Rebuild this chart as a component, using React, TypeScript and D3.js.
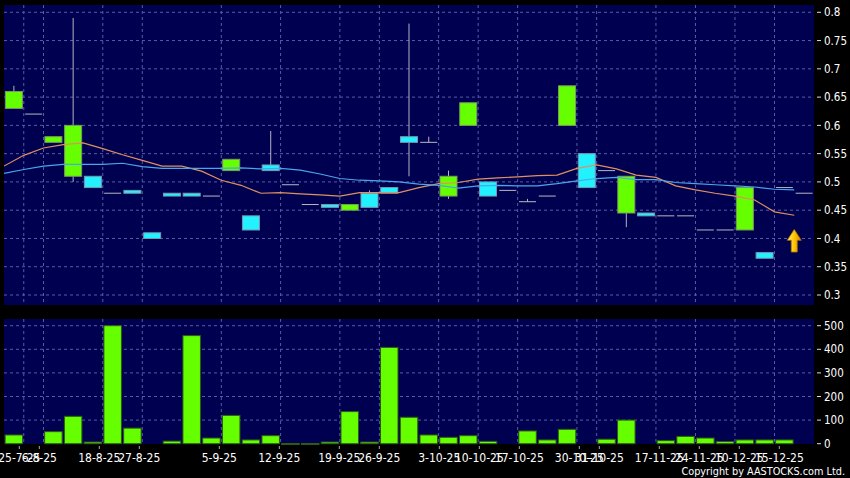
import React from "react";
import * as d3 from "d3";

// ---- data ----
const opens = [0.63, 0.62, 0.57, 0.51, 0.51, 0.48, 0.485, 0.41, 0.48, 0.48, 0.475, 0.52, 0.44, 0.53, 0.495, 0.46, 0.46, 0.45, 0.48, 0.49, 0.58, 0.57, 0.475, 0.6, 0.5, 0.485, 0.465, 0.475, 0.6, 0.55, 0.52, 0.445, 0.445, 0.44, 0.44, 0.415, 0.415, 0.415, 0.375, 0.49, 0.48];
const highs = [0.67, 0.62, 0.58, 0.79, 0.51, 0.48, 0.485, 0.41, 0.48, 0.48, 0.475, 0.54, 0.44, 0.59, 0.495, 0.46, 0.46, 0.46, 0.485, 0.49, 0.78, 0.58, 0.52, 0.64, 0.5, 0.485, 0.47, 0.475, 0.67, 0.55, 0.52, 0.51, 0.445, 0.44, 0.44, 0.415, 0.415, 0.49, 0.375, 0.49, 0.48];
const lows = [0.63, 0.62, 0.57, 0.5, 0.49, 0.48, 0.48, 0.4, 0.475, 0.475, 0.475, 0.52, 0.415, 0.52, 0.495, 0.46, 0.455, 0.45, 0.455, 0.48, 0.51, 0.57, 0.47, 0.6, 0.475, 0.485, 0.465, 0.475, 0.6, 0.49, 0.52, 0.42, 0.44, 0.44, 0.44, 0.415, 0.415, 0.415, 0.365, 0.49, 0.48];
const closes = [0.66, 0.62, 0.58, 0.6, 0.49, 0.48, 0.48, 0.4, 0.475, 0.475, 0.475, 0.54, 0.415, 0.52, 0.495, 0.46, 0.455, 0.46, 0.455, 0.48, 0.57, 0.57, 0.51, 0.64, 0.475, 0.485, 0.465, 0.475, 0.67, 0.49, 0.52, 0.51, 0.44, 0.44, 0.44, 0.415, 0.415, 0.49, 0.365, 0.49, 0.48];
const volumes = [37, 0, 51, 116, 7, 500, 66, 0, 11, 458, 24, 120, 16, 34, 1, 1, 7, 136, 7, 408, 112, 37, 27, 34, 10, 0, 54, 16, 61, 0, 19, 100, 0, 13, 31, 24, 9, 16, 16, 16, 0];
const maOrange = [0.528, 0.547, 0.56, 0.566, 0.569, 0.559, 0.548, 0.538, 0.528, 0.528, 0.519, 0.503, 0.494, 0.48, 0.481, 0.479, 0.477, 0.475, 0.481, 0.481, 0.481, 0.49, 0.497, 0.499, 0.505, 0.507, 0.509, 0.511, 0.512, 0.524, 0.53, 0.523, 0.512, 0.508, 0.493, 0.486, 0.48, 0.475, 0.468, 0.447, 0.441];
const maBlue = [0.515, 0.522, 0.528, 0.531, 0.531, 0.531, 0.533, 0.527, 0.524, 0.524, 0.524, 0.524, 0.525, 0.523, 0.524, 0.521, 0.514, 0.506, 0.503, 0.502, 0.5, 0.496, 0.494, 0.489, 0.493, 0.494, 0.493, 0.493, 0.497, 0.502, 0.506, 0.508, 0.504, 0.504, 0.499, 0.497, 0.495, 0.493, 0.491, 0.487, 0.486];
const tickIdx = [1, 2, 5, 7, 11, 14, 17, 19, 22, 24, 26, 29, 30, 33, 35, 37, 39];
const tickLabels = ["25-7-25", "6-8-25", "18-8-25", "27-8-25", "5-9-25", "12-9-25", "19-9-25", "26-9-25", "3-10-25", "10-10-25", "17-10-25", "30-10-25", "31-10-25", "17-11-25", "24-11-25", "10-12-25", "15-12-25"];
const priceTicks = [0.3, 0.35, 0.4, 0.45, 0.5, 0.55, 0.6, 0.65, 0.7, 0.75, 0.8];
const volTicks = [0, 100, 200, 300, 400, 500];
const arrowSlot = 40;
const arrowTip = 0.416;
const arrowBase = 0.376;

const W = 850;
const H = 478;
const FONT = "'DejaVu Sans Condensed', 'DejaVu Sans', sans-serif";

export default function App() {
  const n = opens.length;
  const plotL = 4, plotR = 814;
  const mainTop = 5, mainBot = 305;
  const volTop = 319, volBot = 444;

  const x = d3.scaleLinear().domain([0, n]).range([plotL, plotR]);
  const xLab = d3.scaleLinear().domain([0, n]).range([-0.7, 819.3]);
  const y = d3.scaleLinear().domain([0.3, 0.8]).range([295, 12.3]);
  const yv = d3.scaleLinear().domain([0, 500]).range([443.7, 325.7]);

  const bodyW = 17;
  const volW = 17.5;

  const lineGen = (arr: number[]) =>
    d3.line<number>().x((_, i) => x(i)).y((d) => y(d))(arr) || "";

  const gridColor = "#5a5aa6";
  const green = "#66ff00";
  const cyan = "#22f2ff";

  // arrow
  const ax = x(arrowSlot);
  const aTip = y(arrowTip);
  const aBase = y(arrowBase);
  const headH = (aBase - aTip) * 0.48;
  const arrowPath = `M${ax},${aTip} L${ax + 7},${aTip + headH} L${ax + 3},${aTip + headH} L${ax + 3},${aBase} L${ax - 3},${aBase} L${ax - 3},${aTip + headH} L${ax - 7},${aTip + headH} Z`;

  return (
    <svg width={W} height={H} style={{ position: "absolute", left: 0, top: 0, background: "#000" }} fontFamily={FONT}>
      <defs>
        <clipPath id="mainClip">
          <rect x={plotL} y={mainTop} width={plotR - plotL} height={mainBot - mainTop} />
        </clipPath>
        <linearGradient id="arrowGrad" x1="0" x2="1" y1="0" y2="0">
          <stop offset="0" stopColor="#fff07a" />
          <stop offset="0.5" stopColor="#ffc400" />
          <stop offset="1" stopColor="#d98a00" />
        </linearGradient>
      </defs>
      <rect x={0} y={0} width={W} height={H} fill="#000" />
      {/* main panel */}
      <rect x={plotL} y={mainTop} width={plotR - plotL} height={mainBot - mainTop} fill="#000050" />
      {/* volume panel */}
      <rect x={plotL} y={volTop} width={plotR - plotL} height={volBot - volTop} fill="#000050" />

      {/* grids */}
      {priceTicks.map((t) => (
        <line key={"hg" + t} x1={plotL} x2={plotR} y1={y(t)} y2={y(t)} stroke={gridColor} strokeDasharray="3,3" strokeWidth={1} />
      ))}
      {volTicks.filter((t) => t > 0).map((t) => (
        <line key={"vg" + t} x1={plotL} x2={plotR} y1={yv(t)} y2={yv(t)} stroke={gridColor} strokeDasharray="3,3" strokeWidth={1} />
      ))}
      {tickIdx.map((k) => (
        <g key={"vgx" + k}>
          <line x1={x(k)} x2={x(k)} y1={mainTop} y2={mainBot} stroke={gridColor} strokeDasharray="3,3" strokeWidth={1} />
          <line x1={x(k)} x2={x(k)} y1={volTop} y2={volBot} stroke={gridColor} strokeDasharray="3,3" strokeWidth={1} />
        </g>
      ))}

      {/* candles */}
      <g clipPath="url(#mainClip)">
        {opens.map((o, i) => {
          const c = closes[i];
          const cx = x(i + 0.5);
          const top = Math.max(o, c);
          const bot = Math.min(o, c);
          const up = c > o;
          const doji = o === c;
          return (
            <g key={"c" + i}>
              {highs[i] > top && (
                <line x1={cx} x2={cx} y1={y(highs[i])} y2={y(top)} stroke="#b4b4c4" strokeWidth={1} />
              )}
              {lows[i] < bot && (
                <line x1={cx} x2={cx} y1={y(bot)} y2={y(lows[i])} stroke="#b4b4c4" strokeWidth={1} />
              )}
              {doji ? (
                <line x1={cx - bodyW / 2} x2={cx + bodyW / 2} y1={y(o)} y2={y(o)} stroke="#b8b8c0" strokeWidth={1} />
              ) : (
                <rect
                  x={cx - bodyW / 2}
                  y={y(top)}
                  width={bodyW}
                  height={Math.max(1, y(bot) - y(top))}
                  fill={up ? green : cyan}
                  stroke={up ? "#7a9a60" : "#7a96b0"}
                  strokeWidth={1}
                />
              )}
            </g>
          );
        })}
        <path d={lineGen(maOrange)} fill="none" stroke="#e0905e" strokeWidth={1.2} />
        <path d={lineGen(maBlue)} fill="none" stroke="#4aa6ea" strokeWidth={1.2} />
        <path d={arrowPath} fill="url(#arrowGrad)" stroke="#b07000" strokeWidth={0.8} />
      </g>

      {/* volume bars */}
      {volumes.map((v, i) =>
        v > 0 ? (
          <rect
            key={"v" + i}
            x={x(i + 0.5) - volW / 2}
            y={yv(v)}
            width={volW}
            height={Math.max(1, yv(0) - yv(v))}
            fill={green}
            stroke="#2e5a16"
            strokeWidth={1}
          />
        ) : null
      )}

      {/* right axis: price */}
      {priceTicks.map((t) => (
        <g key={"pt" + t}>
          <line x1={817} x2={821} y1={y(t)} y2={y(t)} stroke="#ddd" strokeWidth={1} />
          <text x={824} y={y(t)} dy="0.36em" fill="#fff" fontSize={11.5}>
            {d3.format("")(t)}
          </text>
        </g>
      ))}
      {/* right axis: volume */}
      {volTicks.map((t) => (
        <g key={"vt" + t}>
          <line x1={817} x2={821} y1={yv(t)} y2={yv(t)} stroke="#ddd" strokeWidth={1} />
          <text x={824} y={yv(t)} dy="0.36em" fill="#fff" fontSize={11.5}>
            {t}
          </text>
        </g>
      ))}

      {/* x axis */}
      {tickIdx.map((k, j) => (
        <g key={"xt" + k}>
          <line x1={xLab(k)} x2={xLab(k)} y1={446} y2={449} stroke="#aaa" strokeWidth={1} />
          <text x={xLab(k)} y={461.5} textAnchor="middle" fill="#fff" fontSize={12}>
            {tickLabels[j]}
          </text>
        </g>
      ))}

      <text x={845} y={474.5} textAnchor="end" fill="#fff" fontSize={10.8}>
        Copyright by AASTOCKS.com Ltd.
      </text>
    </svg>
  );
}
